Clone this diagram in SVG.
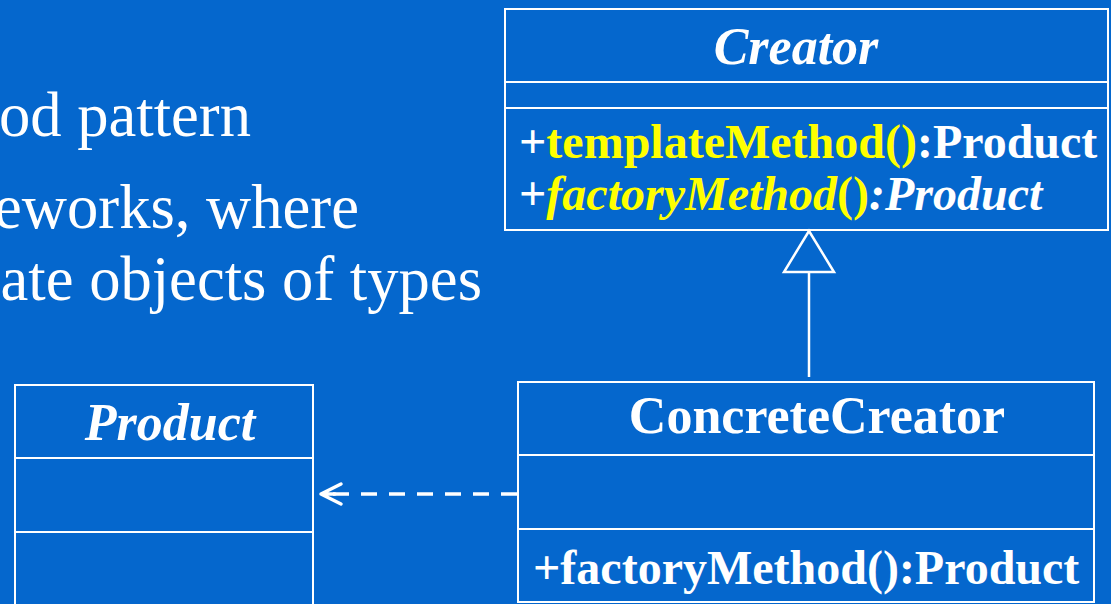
<svg xmlns="http://www.w3.org/2000/svg" width="1111" height="604" viewBox="0 0 1111 604">
<style>
text{font-family:"Liberation Serif","Times New Roman",serif;fill:#fff}
.body{font-size:62.6px}
.title{font-size:52px;font-weight:bold}
.meth{font-size:48px;font-weight:bold}
.it{font-style:italic}
.y{fill:#ffff00}
.box{fill:none;stroke:#fff;stroke-width:2}
.conn{fill:none;stroke:#fff;stroke-width:2.5}
.dash{stroke-width:3.5;stroke-dasharray:16 12}
</style>
<defs>
<marker id="open" markerUnits="userSpaceOnUse" markerWidth="30" markerHeight="30" refX="0" refY="0" orient="auto" viewBox="-28 -15 30 30" overflow="visible">
<path d="M-20,-10 L0,0 L-20,10 M0,0 L-14,0" fill="none" stroke="#fff" stroke-width="3.5" stroke-linecap="round" stroke-linejoin="round"/>
</marker>
<marker id="tri" markerUnits="userSpaceOnUse" markerWidth="60" markerHeight="60" refX="0" refY="0" orient="auto" viewBox="-50 -30 60 60" overflow="visible">
<path d="M0,0 L-41,-25 L-41,25 Z" fill="#0567CD" stroke="#fff" stroke-width="2.5" stroke-linejoin="miter"/>
</marker>
</defs>
<rect width="1111" height="604" fill="#0567CD"/>
<g id="intro-text">
<text class="body" x="251" y="136" text-anchor="end">od pattern</text>
<text class="body" x="359" y="228" text-anchor="end">eworks, where</text>
<text class="body" x="482" y="300" text-anchor="end">ate objects of types</text>
</g>
<g id="connectors">
<path class="conn" d="M809,377 L809,231" marker-end="url(#tri)"/>
<path class="conn dash" d="M517,494 L321,494" marker-end="url(#open)"/>
</g>
<g id="Creator">
<rect class="box" x="505" y="9" width="603" height="221"/>
<line class="box" x1="505" y1="82" x2="1108" y2="82"/>
<line class="box" x1="505" y1="108" x2="1108" y2="108"/>
<text class="title it" x="796" y="64" text-anchor="middle">Creator</text>
<text class="meth" x="519" y="158">+<tspan class="y">templateMethod()</tspan>:Product</text>
<text class="meth" x="519" y="210">+<tspan class="y it">factoryMethod</tspan><tspan class="y">()</tspan><tspan class="it">:Product</tspan></text>
</g>
<g id="Product">
<rect class="box" x="15" y="385" width="298" height="230"/>
<line class="box" x1="15" y1="458" x2="313" y2="458"/>
<line class="box" x1="15" y1="532" x2="313" y2="532"/>
<text class="title it" x="170" y="440" text-anchor="middle">Product</text>
</g>
<g id="ConcreteCreator">
<rect class="box" x="518" y="382" width="576" height="220"/>
<line class="box" x1="518" y1="455" x2="1094" y2="455"/>
<line class="box" x1="518" y1="529" x2="1094" y2="529"/>
<text class="title" x="817" y="433" text-anchor="middle">ConcreteCreator</text>
<text class="meth" x="533" y="584">+factoryMethod():Product</text>
</g>
</svg>
